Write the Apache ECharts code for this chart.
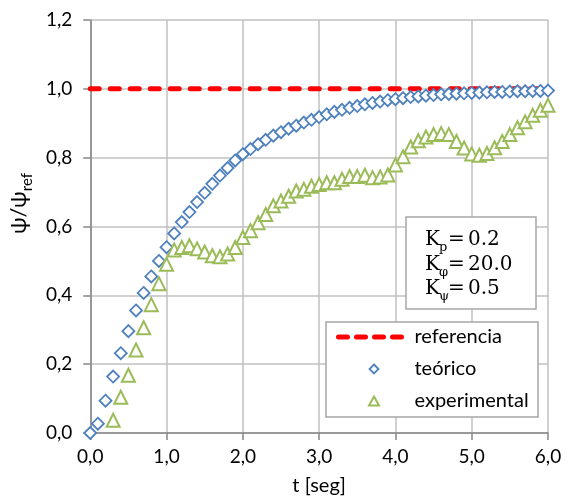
<!DOCTYPE html>
<html>
<head>
<meta charset="utf-8" />
<title>Respuesta ψ/ψref</title>
<script src="https://cdn.jsdelivr.net/npm/echarts@6.0.0/dist/echarts.min.js"></script>
<style>
  html, body { margin: 0; padding: 0; background: #fff; }
  #grafico { width: 569px; height: 501px; }
</style>
</head>
<body>
<div id="grafico"></div>
<script>
// tiempos [seg]
var tTeorico = [0.0, 0.1, 0.2, 0.3, 0.4, 0.5, 0.6, 0.7, 0.8, 0.9,
  1.0, 1.1, 1.2, 1.3, 1.4, 1.5, 1.6, 1.7, 1.8, 1.9,
  2.0, 2.1, 2.2, 2.3, 2.4, 2.5, 2.6, 2.7, 2.8, 2.9,
  3.0, 3.1, 3.2, 3.3, 3.4, 3.5, 3.6, 3.7, 3.8, 3.9,
  4.0, 4.1, 4.2, 4.3, 4.4, 4.5, 4.6, 4.7, 4.8, 4.9,
  5.0, 5.1, 5.2, 5.3, 5.4, 5.5, 5.6, 5.7, 5.8, 5.9, 6.0];
var teorico = [0.000, 0.027, 0.094, 0.164, 0.232, 0.296, 0.356, 0.407, 0.455, 0.500,
  0.540, 0.580, 0.613, 0.642, 0.671, 0.698, 0.724, 0.748, 0.770, 0.792,
  0.810, 0.825, 0.839, 0.852, 0.864, 0.874, 0.884, 0.893, 0.902, 0.910,
  0.918, 0.926, 0.933, 0.939, 0.945, 0.950, 0.955, 0.959, 0.963, 0.967,
  0.970, 0.973, 0.976, 0.978, 0.980, 0.982, 0.984, 0.985, 0.986, 0.987,
  0.988, 0.989, 0.990, 0.991, 0.991, 0.992, 0.993, 0.993, 0.994, 0.994, 0.995];

var tExperimental = [0.3, 0.4, 0.5, 0.6, 0.7, 0.8, 0.9,
  1.0, 1.1, 1.2, 1.3, 1.4, 1.5, 1.6, 1.7, 1.8, 1.9,
  2.0, 2.1, 2.2, 2.3, 2.4, 2.5, 2.6, 2.7, 2.8, 2.9,
  3.0, 3.1, 3.2, 3.3, 3.4, 3.5, 3.6, 3.7, 3.8, 3.9,
  4.0, 4.1, 4.2, 4.3, 4.4, 4.5, 4.6, 4.7, 4.8, 4.9,
  5.0, 5.1, 5.2, 5.3, 5.4, 5.5, 5.6, 5.7, 5.8, 5.9, 6.0];
var experimental = [0.037, 0.104, 0.168, 0.241, 0.306, 0.373, 0.434,
  0.490, 0.532, 0.539, 0.544, 0.535, 0.526, 0.515, 0.512, 0.520, 0.539,
  0.568, 0.588, 0.611, 0.635, 0.660, 0.674, 0.688, 0.703, 0.708, 0.717,
  0.722, 0.727, 0.727, 0.737, 0.745, 0.745, 0.749, 0.742, 0.744, 0.750,
  0.779, 0.803, 0.831, 0.849, 0.860, 0.867, 0.870, 0.867, 0.847, 0.828,
  0.811, 0.807, 0.812, 0.829, 0.847, 0.867, 0.887, 0.904, 0.923, 0.938, 0.952];

// referencia
var tReferencia = [0.0, 6.0];
var referencia = [1.0, 1.0];

// parámetros del controlador
var parametros = ['p', 'φ', 'ψ'];
var valoresParam = ['0.2', '20.0', '0.5'];

function pares(xs, ys) {
  var out = [];
  for (var i = 0; i < xs.length; i++) out.push([xs[i], ys[i]]);
  return out;
}

function coma(v) {
  return v.toFixed(1).replace('.', ',');
}

var fuente = 'Lato, "Noto Sans", sans-serif';
var serif = '"DejaVu Serif", serif';

// iconos de leyenda: el marcador pequeño centrado en una caja de 71x9
var iconoRombo = 'path://M0 0M71 9M35.5 0L40 4.5L35.5 9L31 4.5Z';
var iconoTriangulo = 'path://M0 0M71 9M35.5 0L40.5 9L30.5 9Z';

// caja de leyenda y caja de parámetros
var graficos = [
  { type: 'rect', z: 50, shape: { x: 326, y: 322, width: 212, height: 95 },
    style: { fill: '#fff', stroke: '#a6a6a6', lineWidth: 1.5 } },
  { type: 'rect', z: 50, shape: { x: 406, y: 217, width: 130, height: 92 },
    style: { fill: '#fff', stroke: '#a6a6a6', lineWidth: 1.5 } }
];
for (var i = 0; i < parametros.length; i++) {
  var yLinea = 240 + i * 24.5;
  graficos.push({ type: 'text', z: 60, x: 425, y: yLinea,
    style: { text: 'K', font: '20px ' + serif, fill: '#000', verticalAlign: 'middle' } });
  graficos.push({ type: 'text', z: 60, x: 439, y: yLinea + 8,
    style: { text: parametros[i], font: '13px ' + serif, fill: '#000', verticalAlign: 'middle' } });
  graficos.push({ type: 'text', z: 60, x: 448, y: yLinea,
    style: { text: '=', font: '20px ' + serif, fill: '#000', verticalAlign: 'middle' } });
  graficos.push({ type: 'text', z: 60, x: 468, y: yLinea,
    style: { text: valoresParam[i], font: '20px ' + serif, fill: '#000', verticalAlign: 'middle' } });
}

var chart = echarts.init(document.getElementById('grafico'));

chart.setOption({
  animation: false,
  backgroundColor: '#fff',
  grid: { left: 90, right: 21, top: 20, bottom: 65 },
  xAxis: {
    type: 'value',
    min: 0, max: 6, interval: 1,
    name: 't [seg]',
    nameLocation: 'middle',
    nameGap: 43,
    nameTextStyle: { fontFamily: fuente, fontSize: 20, color: '#000' },
    axisLine: { lineStyle: { color: '#868686', width: 1.5 } },
    axisTick: { show: true, length: 7, lineStyle: { color: '#868686', width: 1.5 } },
    axisLabel: { formatter: coma, fontFamily: fuente, fontSize: 19, color: '#000', margin: 14 },
    splitLine: { show: true, lineStyle: { color: '#c0c0c0', width: 1.5 } }
  },
  yAxis: {
    type: 'value',
    min: 0, max: 1.2, interval: 0.2,
    name: '{a|ψ/ψ}{b|ref}',
    nameLocation: 'middle',
    nameGap: 52,
    nameTextStyle: {
      color: '#000',
      padding: [0, 0, 0, 46],
      rich: {
        a: { fontFamily: fuente, fontSize: 22, color: '#000', lineHeight: 24 },
        b: { fontFamily: fuente, fontSize: 15, color: '#000', lineHeight: 32, verticalAlign: 'bottom' }
      }
    },
    axisLine: { show: true, lineStyle: { color: '#868686', width: 1.5 } },
    axisTick: { show: true, length: 7, lineStyle: { color: '#868686', width: 1.5 } },
    axisLabel: { formatter: coma, fontFamily: fuente, fontSize: 19, color: '#000', margin: 18 },
    splitLine: { show: true, lineStyle: { color: '#c0c0c0', width: 1.5 } }
  },
  legend: {
    orient: 'vertical',
    left: 336, top: 327,
    padding: 0,
    itemWidth: 71, itemHeight: 9,
    itemGap: 12,
    z: 100,
    textStyle: { fontFamily: fuente, fontSize: 20, color: '#000', lineHeight: 20 },
    data: [
      { name: 'referencia',
        itemStyle: { color: 'rgba(0,0,0,0)', borderWidth: 0, opacity: 0 },
        lineStyle: { color: '#ff0000', width: 5, type: [9, 9], cap: 'round' } },
      { name: 'teórico', icon: iconoRombo,
        itemStyle: { color: '#fff', borderColor: '#4f81bd', borderWidth: 1.8 } },
      { name: 'experimental', icon: iconoTriangulo,
        itemStyle: { color: '#fff', borderColor: '#9bbb59', borderWidth: 2 } }
    ]
  },
  graphic: graficos,
  series: [
    {
      name: 'referencia',
      type: 'line',
      data: pares(tReferencia, referencia),
      symbol: 'none',
      lineStyle: { color: '#ff0000', width: 5, type: [9, 11], cap: 'round' },
      itemStyle: { color: '#ff0000' },
      z: 3
    },
    {
      name: 'teórico',
      type: 'scatter',
      data: pares(tTeorico, teorico),
      symbol: 'diamond',
      symbolSize: 12,
      itemStyle: { color: '#fff', borderColor: '#4f81bd', borderWidth: 1.8, opacity: 1 },
      z: 4
    },
    {
      name: 'experimental',
      type: 'scatter',
      data: pares(tExperimental, experimental),
      symbol: 'triangle',
      symbolSize: 13,
      itemStyle: { color: '#fff', borderColor: '#9bbb59', borderWidth: 2, opacity: 1 },
      z: 5
    }
  ]
});

window.onresize = function() {
  chart.resize();
};
</script>
</body>
</html>
